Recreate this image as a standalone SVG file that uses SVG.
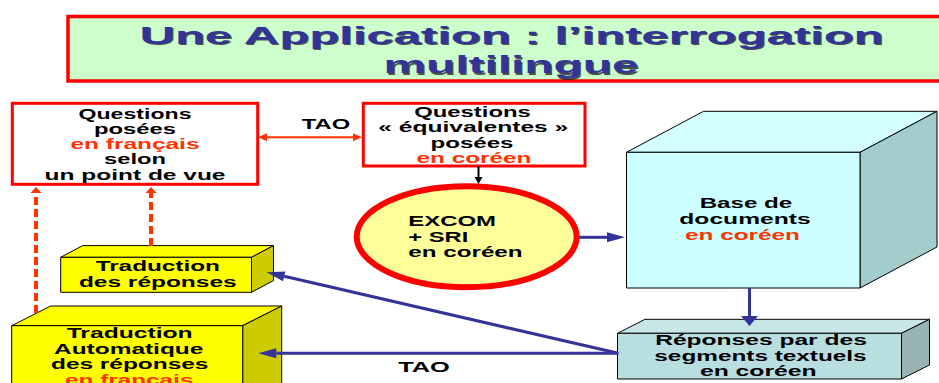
<svg xmlns="http://www.w3.org/2000/svg" width="939" height="383" viewBox="0 0 939 383">
<defs>
<style>
text{font-family:"Liberation Sans",Arial,sans-serif;font-weight:bold;}
.t{font-size:15px;fill:#000;text-anchor:middle}
.s{font-size:14px;fill:#000;text-anchor:middle}
.l{font-size:14px;fill:#000;text-anchor:start}
.o{fill:#FF3300}
.ttl{font-size:23px;text-anchor:middle;fill:#333399}
.sh{font-size:23px;text-anchor:middle;fill:#1a1a1a;opacity:0.75}
.qbox{fill:#fff;stroke:#FF0000;stroke-width:3}
.edge{stroke:#000;stroke-width:1;stroke-linejoin:round}
.yf{fill:#FFFF00}
.ys{fill:#CCCC00}
.blue{stroke:#333399;fill:none;stroke-width:3}
.dash{stroke:#FF3300;fill:none;stroke-width:4;stroke-dasharray:8,4}
</style>
<marker id="ab" markerUnits="userSpaceOnUse" markerWidth="18" markerHeight="10" refX="0" refY="5" orient="auto" overflow="visible"><path d="M0,0 L18,5 L0,10 z" fill="#333399"/></marker>
<marker id="abw" markerUnits="userSpaceOnUse" markerWidth="10" markerHeight="17" refX="0" refY="8.5" orient="auto" overflow="visible"><path d="M0,0 L10,8.5 L0,17 z" fill="#333399"/></marker>
<marker id="ao" markerUnits="userSpaceOnUse" markerWidth="9" markerHeight="8" refX="0" refY="4" orient="auto-start-reverse" overflow="visible"><path d="M0,0 L9,4 L0,8 z" fill="#FF3300"/></marker>
<marker id="ad" markerUnits="userSpaceOnUse" markerWidth="6" markerHeight="11" refX="0" refY="5.5" orient="auto" overflow="visible"><path d="M0,0 L6,5.5 L0,11 z" fill="#FF3300"/></marker>
<marker id="ak" markerUnits="userSpaceOnUse" markerWidth="7" markerHeight="8" refX="0" refY="4" orient="auto" overflow="visible"><path d="M0,0 L7,4 L0,8 z" fill="#000"/></marker>
</defs>
<rect width="939" height="383" fill="#fff"/>

<g id="title">
<rect x="68" y="16.5" width="880" height="64.5" fill="#CCFFCC" stroke="#FF0000" stroke-width="3.5"/>
<text class="sh" x="513" y="45" textLength="744" lengthAdjust="spacingAndGlyphs">Une Application : l’interrogation</text>
<text class="ttl" x="511.5" y="43.5" textLength="744" lengthAdjust="spacingAndGlyphs">Une Application : l’interrogation</text>
<text class="sh" x="512.5" y="74.8" textLength="255" lengthAdjust="spacingAndGlyphs">multilingue</text>
<text class="ttl" x="511" y="73.3" textLength="255" lengthAdjust="spacingAndGlyphs">multilingue</text>
</g>

<g id="q-fr">
<rect class="qbox" x="12.3" y="103.3" width="245.4" height="81"/>
<text class="t" x="135" y="118.5" textLength="113" lengthAdjust="spacingAndGlyphs">Questions</text>
<text class="t" x="135" y="133.5" textLength="82" lengthAdjust="spacingAndGlyphs">posées</text>
<text class="t o" x="135" y="149" textLength="129" lengthAdjust="spacingAndGlyphs">en français</text>
<text class="t" x="135" y="164.2" textLength="62" lengthAdjust="spacingAndGlyphs">selon</text>
<text class="t" x="135" y="179.5" textLength="181" lengthAdjust="spacingAndGlyphs">un point de vue</text>
</g>

<g id="q-ko">
<rect class="qbox" x="363.3" y="103.3" width="221.7" height="62.7"/>
<text class="t" x="472.5" y="116.7" textLength="116.7" lengthAdjust="spacingAndGlyphs">Questions</text>
<text class="t" x="473.3" y="132" textLength="190" lengthAdjust="spacingAndGlyphs">« équivalentes »</text>
<text class="t" x="472" y="148" textLength="83" lengthAdjust="spacingAndGlyphs">posées</text>
<text class="t o" x="474" y="163.3" textLength="115" lengthAdjust="spacingAndGlyphs">en coréen</text>
</g>

<g id="excom">
<ellipse cx="466.7" cy="236.7" rx="110" ry="50.5" fill="#FFFF99" stroke="#FF0000" stroke-width="6"/>
<text class="l" x="408.3" y="226" textLength="87.7" lengthAdjust="spacingAndGlyphs">EXCOM</text>
<text class="l" x="408.3" y="241.7" textLength="60" lengthAdjust="spacingAndGlyphs">+ SRI</text>
<text class="l" x="408.3" y="256.7" textLength="114.3" lengthAdjust="spacingAndGlyphs">en coréen</text>
</g>

<g id="base">
<polygon class="edge" points="626.5,152.3 703.5,111.3 937,111.3 860,152.3" fill="#D3FFFF"/>
<polygon class="edge" points="860,152.3 937,111.3 937,247 860,288" fill="#A3CCCC"/>
<rect class="edge" x="626.5" y="152.3" width="233.5" height="135.7" fill="#CCFFFF"/>
<text class="t" x="746" y="208.3" textLength="92.7" lengthAdjust="spacingAndGlyphs">Base de</text>
<text class="t" x="745" y="224.3" textLength="131.3" lengthAdjust="spacingAndGlyphs">documents</text>
<text class="t o" x="742.5" y="240" textLength="115" lengthAdjust="spacingAndGlyphs">en coréen</text>
</g>

<g id="reponses">
<polygon class="edge" points="617.5,333.3 645,319.3 929.5,319.3 901.5,333.3" fill="#C6E6E8"/>
<polygon class="edge" points="901.5,333.3 929.5,319.3 929.5,365 901.5,379" fill="#97B3B3"/>
<rect class="edge" x="617.5" y="333.3" width="284" height="45.7" fill="#B8DEE0"/>
<text class="s" x="761" y="345" textLength="211.7" lengthAdjust="spacingAndGlyphs">Réponses par des</text>
<text class="s" x="760.5" y="361" textLength="212.3" lengthAdjust="spacingAndGlyphs">segments textuels</text>
<text class="s" x="758.3" y="375.7" textLength="116.7" lengthAdjust="spacingAndGlyphs">en coréen</text>
</g>

<g id="trad-rep">
<polygon class="edge yf" points="60.7,257.3 82.7,245.6 273.5,245.6 251.5,257.3"/>
<polygon class="edge ys" points="251.5,257.3 273.5,245.6 273.5,280.6 251.5,292.3"/>
<rect class="edge yf" x="60.7" y="257.3" width="190.8" height="35"/>
<text class="s" x="157.8" y="270.7" textLength="124.3" lengthAdjust="spacingAndGlyphs">Traduction</text>
<text class="s" x="157.8" y="286.7" textLength="157.7" lengthAdjust="spacingAndGlyphs">des réponses</text>
</g>

<g id="trad-auto">
<polygon class="edge yf" points="11.7,325.7 50.7,306 281.7,306 242.7,325.7"/>
<polygon class="edge ys" points="242.7,325.7 281.7,306 281.7,390 242.7,410"/>
<rect class="edge yf" x="11.7" y="325.7" width="231" height="80"/>
<text class="s" x="129.7" y="338.3" textLength="126" lengthAdjust="spacingAndGlyphs">Traduction</text>
<text class="s" x="128.7" y="353.5" textLength="149.3" lengthAdjust="spacingAndGlyphs">Automatique</text>
<text class="s" x="129.7" y="369" textLength="157.3" lengthAdjust="spacingAndGlyphs">des réponses</text>
<text class="s o" x="129.2" y="385" textLength="128.3" lengthAdjust="spacingAndGlyphs">en français</text>
</g>

<g id="connectors">
<line x1="267" y1="137.3" x2="353" y2="137.3" stroke="#FF3300" stroke-width="2" marker-start="url(#ao)" marker-end="url(#ao)"/>
<text class="s" x="326" y="129" textLength="48.3" lengthAdjust="spacingAndGlyphs">TAO</text>
<line x1="478.5" y1="166" x2="478.5" y2="177" stroke="#000" stroke-width="2" marker-end="url(#ak)"/>
<line class="blue" x1="579" y1="237.3" x2="607" y2="237.3" marker-end="url(#ab)"/>
<line class="blue" x1="749.5" y1="288" x2="749.5" y2="316" stroke-width="5" marker-end="url(#abw)"/>
<line class="blue" x1="618.3" y1="353.3" x2="284.2" y2="276.3" marker-end="url(#ab)"/>
<line class="blue" x1="618.3" y1="353.3" x2="276.3" y2="353.3" marker-end="url(#ab)"/>
<text class="s" x="424" y="372.3" textLength="51.7" lengthAdjust="spacingAndGlyphs">TAO</text>
<line class="dash" x1="151" y1="246" x2="151" y2="193" marker-end="url(#ad)"/>
<line class="dash" x1="36" y1="313" x2="36" y2="193" marker-end="url(#ad)"/>
</g>
</svg>
